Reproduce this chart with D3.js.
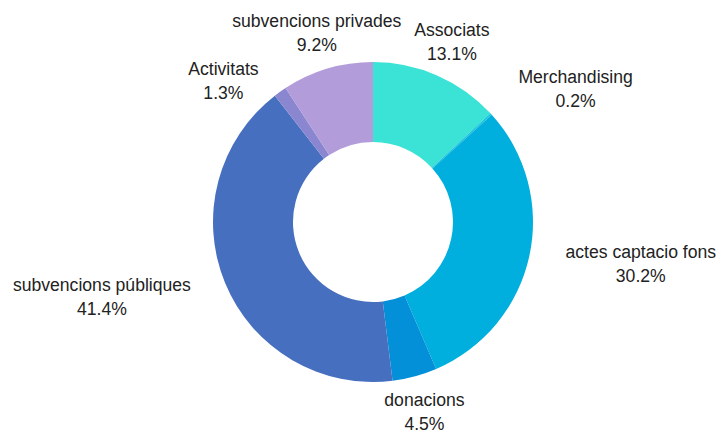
<!DOCTYPE html>
<html>
<head>
<meta charset="utf-8">
<script src="https://cdn.jsdelivr.net/npm/d3@7"></script>
<style>
  body { margin: 0; background: #fff; }
  .lbl { font-family: "Liberation Sans", Arial, sans-serif; font-size: 17.6px; fill: #222; }
</style>
</head>
<body>
<svg id="chart"></svg>
<script>
// slices, clockwise from 12 o'clock
const categories = ['Associats', 'Merchandising', 'actes captacio fons', 'donacions',
  'subvencions públiques', 'Activitats', 'subvencions privades'];
const values = [13.1, 0.2, 30.2, 4.5, 41.4, 1.3, 9.2];
const colors = ['#3ae3d5', '#1cc6dc', '#00afde', '#0490d8', '#476fc0', '#8a86d0', '#b39cda'];

const width = 721, height = 432;
const cx = 373, cy = 222;
const outerR = 160, innerR = 80, labelR = 197;
const lineH = 24;

const svg = d3.select('#chart').attr('width', width).attr('height', height);
const g = svg.append('g').attr('transform', `translate(${cx},${cy})`);

const data = categories.map((c, i) => ({ name: c, value: values[i], color: colors[i] }));
const total = d3.sum(values);

const pie = d3.pie().value(d => d.value).sort(null);
const arc = d3.arc().innerRadius(innerR).outerRadius(outerR);
const arcs = pie(data);

g.selectAll('path.slice')
  .data(arcs)
  .join('path')
    .attr('class', 'slice')
    .attr('d', arc)
    .attr('fill', d => d.data.color);

// label positions on a circle outside the ring
const measure = svg.append('text').attr('class', 'lbl');
const labels = arcs.map(d => {
  const a = (d.startAngle + d.endAngle) / 2;
  const s = Math.sin(a), c = Math.cos(a);
  const anchor = Math.abs(s) < 0.5 ? 'middle' : (s > 0 ? 'start' : 'end');
  const pct = (d.data.value / total * 100).toFixed(1) + '%';
  measure.text(d.data.name);
  const w = Math.max(measure.node().getComputedTextLength(), 40);
  let x = labelR * s, y = -labelR * c;
  // centre of the text block
  let bx = anchor === 'middle' ? x : (anchor === 'start' ? x + w / 2 : x - w / 2);
  return { name: d.data.name, pct, x: bx, y, w, h: lineH * 2, side: s < 0 ? 'L' : 'R' };
});
measure.remove();

// push overlapping labels apart (top to bottom)
['L', 'R'].forEach(side => {
  const list = labels.filter(l => l.side === side).sort((a, b) => a.y - b.y);
  for (let i = 1; i < list.length; i++) {
    const p = list[i - 1], l = list[i];
    const overlapX = Math.abs(p.x - l.x) < (p.w + l.w) / 2;
    const minY = p.y + (p.h + l.h) / 2;
    if (overlapX && l.y < minY) l.y = minY;
  }
});

const lg = g.selectAll('g.label')
  .data(labels)
  .join('g')
    .attr('class', 'label')
    .attr('transform', d => `translate(${d.x},${d.y})`);

lg.append('text')
    .attr('class', 'lbl')
    .attr('text-anchor', 'middle')
    .attr('y', -lineH / 2)
    .attr('dy', '0.35em')
    .text(d => d.name);

lg.append('text')
    .attr('class', 'lbl')
    .attr('text-anchor', 'middle')
    .attr('y', lineH / 2)
    .attr('dy', '0.35em')
    .text(d => d.pct);
</script>
</body>
</html>
